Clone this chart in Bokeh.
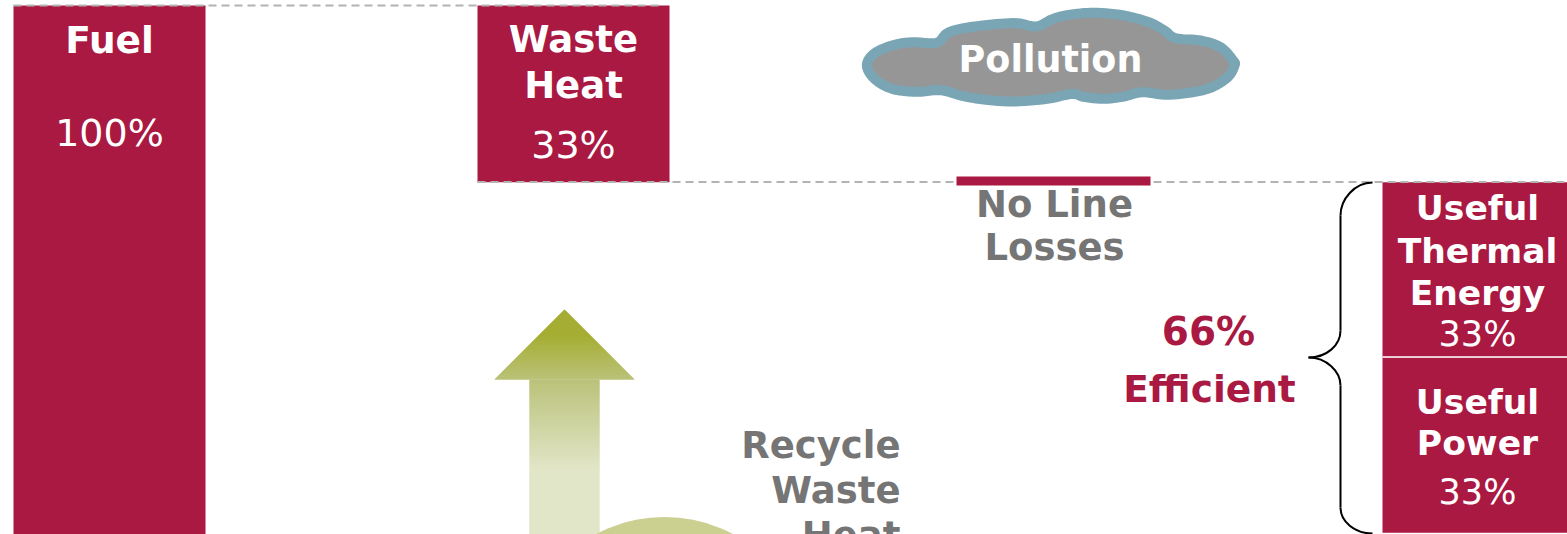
from bokeh.plotting import figure
from bokeh.embed import file_html
from bokeh.resources import INLINE
from bokeh.models import Range1d
from bokeh.core.properties import value

# --- data -------------------------------------------------------------
bar_names = ["Fuel", "Waste Heat", "Useful Thermal Energy", "Useful Power"]
bar_values = [100, 33.3, 33, 33]
bar_bases = [0, 66.7, 33.7, 0.7]
bar_left = [13, 477, 1382, 1382]
bar_right = [205, 669, 1567, 1567]

CRIMSON = "#a91942"
GREY = "#757575"
FONT = "DejaVu Sans"

# cloud outline, in zoomed-crop units
cloud_x = [49,70,125,185,258,290,340,425,500,558,610,670,740,820,895,942,975,1050,1110,1148,1152,1132,1080,1015,945,875,820,760,700,665,590,490,400,335,270,200,125,72]
cloud_y = [195,160,135,125,127,98,83,72,68,78,54,41,37,45,65,90,113,120,140,180,195,230,262,277,283,275,288,295,289,280,295,303,297,286,269,274,265,235]

def smooth(xs, ys, n=6):
    out_x, out_y = [], []
    m = len(xs)
    for i in range(m):
        x0, y0 = xs[i - 1], ys[i - 1]
        x1, y1 = xs[i], ys[i]
        x2, y2 = xs[(i + 1) % m], ys[(i + 1) % m]
        x3, y3 = xs[(i + 2) % m], ys[(i + 2) % m]
        for k in range(n):
            t = k / n
            f = lambda a, b, c, d: 0.5 * (2 * b + (c - a) * t + (2 * a - 5 * b + 4 * c - d) * t * t + (3 * b - a - 3 * c + d) * t ** 3)
            out_x.append(f(x0, x1, x2, x3))
            out_y.append(f(y0, y1, y2, y3))
    return out_x, out_y

p = figure(width=1567, height=534, output_backend="svg", toolbar_location=None,
           x_range=Range1d(0, 1567), y_range=Range1d(534, 0),
           x_axis_location=None, y_axis_location=None,
           min_border=0, outline_line_color=None, background_fill_color="white",
           margin=(0, 0, 0, 0))
p.grid.visible = False
p.extra_y_ranges = {"pct": Range1d(0.377, 100.94)}

# gradient arrow: each slice overlaps the next so no white seams show through
def mix(a, b, t):
    return "#%02x%02x%02x" % tuple(round(a[i] + (b[i] - a[i]) * t) for i in range(3))
c0, c1, c2 = (165, 174, 51), (186, 194, 122), (226, 230, 200)
xs, ys, cs = [], [], []
for y in range(309, 534):
    if y < 379:
        y2 = min(y + 2, 379)
        h0, h1 = y - 309, y2 - 309
        t = max(0, y - 335) / 44
        cs.append(mix(c0, c1, t))
    else:
        y2 = min(y + 2, 534)
        h0, h1 = 35, 35
        t = min(1, (y - 379) / 90)
        cs.append(mix(c1, c2, t))
    xs.append([564 - h0, 564 + h0, 564 + h1, 564 - h1])
    ys.append([y, y, y2, y2])
p.patches(xs, ys, fill_color=cs, line_color=None, fill_alpha=1)

# green circle at the bottom
p.ellipse(x=[664], y=[663], width=[293], height=[293], fill_color="#cbcf8f", line_color=None)

# bars, from percent values
p.quad(left=bar_left, right=bar_right, bottom=bar_bases,
       top=[b + v for b, v in zip(bar_bases, bar_values)],
       y_range_name="pct", fill_color=CRIMSON, line_color=None)
p.line([1382, 1567], [356.5, 356.5], line_color="white", line_width=1.5)

# dashed guide lines
p.line([13, 660], [5, 5], line_color="#b3b3b3", line_width=2, line_dash="8 5")
p.line([477, 1567], [181.5, 181.5], line_color="#b3b3b3", line_width=2, line_dash="8 5")

# no-line-losses bar
p.quad(left=[956], right=[1150], top=[176], bottom=[185], fill_color=CRIMSON, line_color=None)

# cloud
sx, sy = smooth([850 + v / 3 for v in cloud_x], [v / 3 for v in cloud_y])
p.patch(sx, sy, fill_color="#969696", line_color="#7aa5b5", line_width=10, line_join="round")

# brace
p.bezier(x0=[1372, 1340, 1308, 1340], y0=[182, 330, 357, 507],
         x1=[1340, 1308, 1340, 1372], y1=[215, 357, 385, 533],
         cx0=[1354, 1340, 1326, 1340], cy0=[182, 345, 357, 521],
         cx1=[1340, 1326, 1340, 1354], cy1=[199, 357, 371, 533],
         line_color="black", line_width=2)
p.segment(x0=[1340, 1340], y0=[215, 385], x1=[1340, 1340], y1=[330, 507],
          line_color="black", line_width=2)

def label(x, y, s, size, color="white", bold=True, align="center"):
    p.text([x], [y], text=[s], text_font=value(FONT), text_font_size=f"{size}px",
           text_font_style="bold" if bold else "normal", text_color=color,
           text_align=align, text_baseline="middle")

label(109, 39, "Fuel", 37.5)
label(109, 132, "100%", 38, bold=False)
label(573, 39, "Waste", 37)
label(573, 85, "Heat", 37)
label(573, 144, "33%", 38, bold=False)
label(1050, 59, "Pollution", 36.5)
label(1054, 204, "No Line", 37, GREY)
label(1054, 247, "Losses", 37, GREY)
label(1208, 331, "66%", 39, CRIMSON)
label(1209, 388, "Efficient", 37.5, CRIMSON)
label(900, 445, "Recycle", 37, GREY, align="right")
label(900, 490, "Waste", 37, GREY, align="right")
label(900, 535, "Heat", 37, GREY, align="right")
label(1477, 207, "Useful", 34.5)
label(1477, 250, "Thermal", 34.5)
label(1477, 292, "Energy", 34.5)
label(1477, 333, "33%", 35, bold=False)
label(1477, 401, "Useful", 34.5)
label(1477, 442, "Power", 34.5)
label(1477, 491, "33%", 35, bold=False)

open("out.html", "w").write(file_html(p, INLINE))
